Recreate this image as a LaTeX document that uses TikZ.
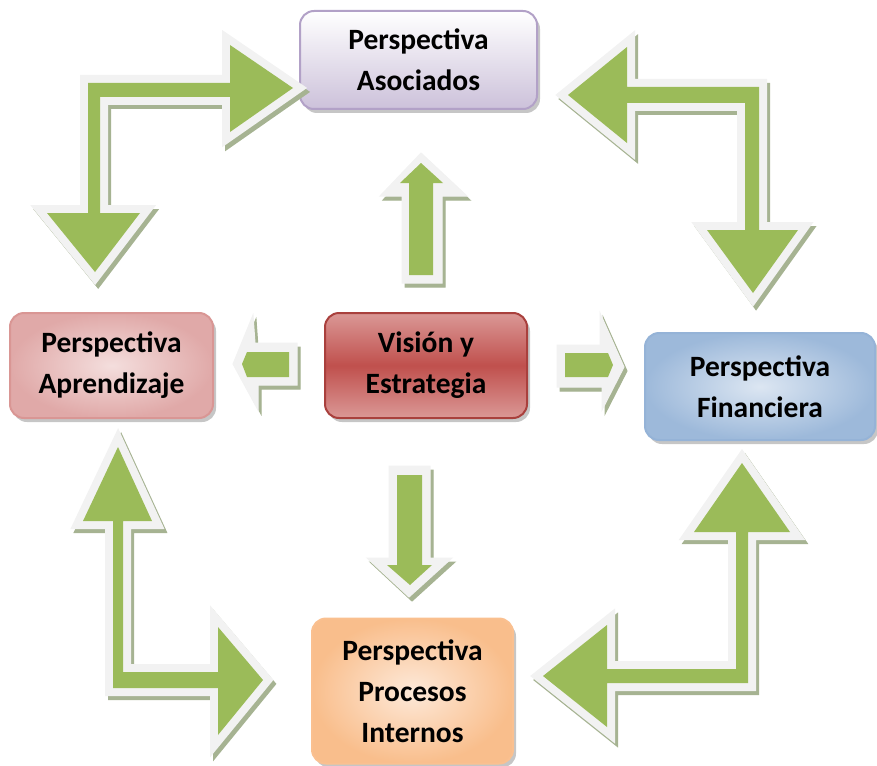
\documentclass[tikz,border=0pt]{standalone}
\usepackage{fontspec}
\setmainfont{Carlito}
\usetikzlibrary{shadows}

\definecolor{verdeflecha}{HTML}{9BBB59}
\definecolor{bordeflecha}{HTML}{F2F2F2}
\definecolor{sombraflecha}{HTML}{A6B392}
\definecolor{lilaborde}{HTML}{B2A1C7}
\definecolor{lilafondo}{HTML}{CCC1DA}
\definecolor{rosaborde}{HTML}{D99694}
\definecolor{rosaclaro}{HTML}{F4DEDD}
\definecolor{rosaoscuro}{HTML}{E0A9A8}
\definecolor{rojo}{HTML}{C0504D}
\definecolor{rojoborde}{HTML}{A9403D}
\definecolor{rojoclaro}{HTML}{DA9896}
\definecolor{azulborde}{HTML}{95B3D7}
\definecolor{azulclaro}{HTML}{DCE6F2}
\definecolor{azuloscuro}{HTML}{9DB9DA}
\definecolor{naranjaborde}{HTML}{FAC090}
\definecolor{naranjaclaro}{HTML}{FDE9D9}
\definecolor{naranjaoscuro}{HTML}{F9BE8C}

\tikzset{
  caja/.style={rounded corners=14pt, line width=2pt, align=center,
    inner sep=0pt, text=black,
    font=\bfseries\fontsize{29.5}{41}\selectfont,
    drop shadow={shadow xshift=3pt, shadow yshift=-4pt, opacity=.45}},
  sombra/.style={fill=sombraflecha, draw=sombraflecha, line join=miter},
  borde/.style={fill=bordeflecha, draw=bordeflecha, line join=miter},
  relleno/.style={fill=verdeflecha}
}

% one block arrow: first its shadow, then the light
% border shape, and the green body on top
% #1 = width of the border stroke
\newcommand{\flecha}[3][16]{%
  \filldraw[sombra, line width=#1, shift={(3,4)}] #2 -- cycle;
  \filldraw[borde, line width=#1] #2 -- cycle;
  \fill[relleno] #3 -- cycle;
}

\begin{document}
\begin{tikzpicture}[x=1pt, y=-1pt]
\useasboundingbox (0,0) rectangle (877,765);

% The five perspectives, placed
% at the same spots as the boxes
% in the original drawing
\node[caja, draw=lilaborde, top color=white, bottom color=lilafondo,
  minimum width=237pt, minimum height=98pt]
  (asociados) at (418.5,60) {Perspectiva\\Asociados};
\node[caja, draw=rosaborde, inner color=rosaclaro, outer color=rosaoscuro,
  minimum width=203pt, minimum height=105pt]
  (aprendizaje) at (111.5,365.5) {Perspectiva\\Aprendizaje};
\node[caja, draw=rojoborde, top color=rojoclaro, bottom color=rojoclaro,
  middle color=rojo, minimum width=202pt, minimum height=105pt]
  (vision) at (426,365.5) {Visión y\\Estrategia};
\node[caja, draw=azulborde, inner color=azulclaro, outer color=azuloscuro,
  minimum width=230pt, minimum height=107pt]
  (financiera) at (760,386.5) {Perspectiva\\Financiera};
\node[caja, draw=naranjaborde, inner color=naranjaclaro, outer color=naranjaoscuro,
  minimum width=201pt, minimum height=145pt]
  (procesos) at (412.5,691) {Perspectiva\\Procesos\\Internos};

% bent arrows round the outside
%(upper left, upper right, lower left, lower right)
\flecha{(95,272) -- (140,213) -- (100,213) -- (100,97) -- (230,97) -- (230,132)
  -- (293,88) -- (230,45) -- (230,83) -- (88,83) -- (88,213) -- (47,213)}
  {(95,272) -- (140,213) -- (100,213) -- (100,97) -- (230,97) -- (230,132)
  -- (293,88) -- (230,45) -- (230,83) -- (88,83) -- (88,213) -- (47,213)}
\flecha{(568,95) -- (627,47) -- (627,87) -- (759,87) -- (759,230) -- (798,230)
  -- (753,293) -- (707,230) -- (745,230) -- (745,103) -- (627,103) -- (627,143)}
  {(568,95) -- (627,47) -- (627,87) -- (759,87) -- (759,230) -- (798,230)
  -- (753,293) -- (707,230) -- (745,230) -- (745,103) -- (627,103) -- (627,143)}
\flecha{(118,447) -- (152,521) -- (123,521) -- (123,672) -- (218,672) -- (218,627)
  -- (263,680) -- (218,735) -- (218,688) -- (113,688) -- (113,521) -- (83,521)}
  {(118,447) -- (152,521) -- (123,521) -- (123,672) -- (218,672) -- (218,627)
  -- (263,680) -- (218,735) -- (218,688) -- (113,688) -- (113,521) -- (83,521)}
\flecha{(742,463) -- (790,532) -- (748,532) -- (748,683) -- (607,683) -- (607,727)
  -- (543,676) -- (607,625) -- (607,669) -- (736,669) -- (736,532) -- (694,532)}
  {(742,463) -- (790,532) -- (748,532) -- (748,683) -- (607,683) -- (607,727)
  -- (543,676) -- (607,625) -- (607,669) -- (736,669) -- (736,532) -- (694,532)}

% straight arrows out of the centre box
\flecha[1]{(421,153) -- (467,196) -- (442,196) -- (442,283) -- (402,283)
  -- (402,196) -- (380,196)}
  {(421,163) -- (443,183) -- (433,183) -- (433,275) -- (409,275)
  -- (409,183) -- (400,183)}
\flecha[1]{(409,597) -- (452,558) -- (430,558) -- (430,466) -- (389,466)
  -- (389,558) -- (367,558)}
  {(410,585) -- (432,565) -- (422,565) -- (422,475) -- (397,475)
  -- (397,565) -- (387,565)}
\flecha[1]{(233,364) -- (253,315) -- (255,343) -- (297,343) -- (297,385)
  -- (258,385) -- (258,410)}
  {(242,364) -- (247,352) -- (289,352) -- (289,377) -- (247,377)}
\flecha[1]{(557,345) -- (600,345) -- (600,313) -- (624,367) -- (602,410)
  -- (602,387) -- (557,387)}
  {(565,353) -- (608,353) -- (613,365) -- (608,377) -- (565,377)}
\end{tikzpicture}
\end{document}
